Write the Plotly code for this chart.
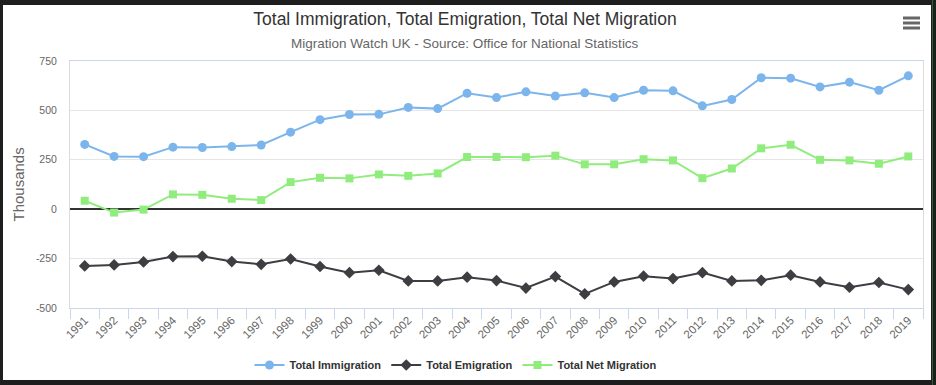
import plotly.graph_objects as go

years = [str(y) for y in range(1991, 2020)]
immigration = [328, 267, 266, 314, 312, 317, 325, 390, 453, 479, 480, 515, 509, 587, 565, 594, 573, 589, 565,
               602, 599, 523, 555, 665, 663, 619, 643, 602, 675]
emigration = [-287, -282, -267, -240, -238, -265, -279, -252, -290, -321, -309, -363, -363, -344, -361, -399,
              -341, -429, -368, -339, -351, -321, -363, -360, -334, -368, -395, -371, -407]
net_migration = [43, -17, -2, 75, 73, 53, 46, 137, 159, 156, 176, 169, 181, 264, 264, 263, 271, 227, 227,
                 253, 247, 157, 206, 308, 326, 250, 247, 230, 267]
y_ticks = [-500, -250, 0, 250, 500, 750]

title_text = "Total Immigration, Total Emigration, Total Net Migration"
subtitle_text = "Migration Watch UK - Source: Office for National Statistics"
y_title = "Thousands"

FONT = "Liberation Sans, Arial, sans-serif"

W, H = 936, 385
L, R, T, B = 70, 13, 61, 77
PW = W - L - R
PH = H - T - B

def px_x(p):
    return (p - L) / PW

def px_y(p):
    return (H - B - p) / PH

fig = go.Figure()
fig.add_trace(go.Scatter(x=years, y=immigration, name="Total Immigration", mode="lines+markers",
                         line=dict(color="#7cb5ec", width=2),
                         marker=dict(symbol="circle", size=9, color="#7cb5ec")))
fig.add_trace(go.Scatter(x=years, y=emigration, name="Total Emigration", mode="lines+markers",
                         line=dict(color="#3d3d42", width=2),
                         marker=dict(symbol="diamond", size=9, color="#3d3d42")))
fig.add_trace(go.Scatter(x=years, y=net_migration, name="Total Net Migration", mode="lines+markers",
                         line=dict(color="#90ed7d", width=2),
                         marker=dict(symbol="square", size=8, color="#90ed7d")))

shapes = [
    dict(type="rect", xref="paper", yref="paper", layer="below",
         x0=px_x(3), x1=px_x(931), y0=px_y(380), y1=px_y(5),
         fillcolor="white", line=dict(width=0)),
    dict(type="line", xref="paper", yref="paper", layer="below",
         x0=px_x(932.5), x1=px_x(932.5), y0=px_y(385), y1=px_y(0),
         line=dict(color="#2f5f34", width=1)),
]
for yy in (18, 23, 28):
    shapes.append(dict(type="line", xref="paper", yref="paper",
                       x0=px_x(903), x1=px_x(920), y0=px_y(yy), y1=px_y(yy),
                       line=dict(color="#666666", width=3)))

fig.update_layout(
    width=W, height=H,
    margin=dict(l=L, r=R, t=T, b=B, pad=0, autoexpand=False),
    paper_bgcolor="#1e1e1e",
    plot_bgcolor="white",
    font=dict(family=FONT, color="#666666"),
    title=dict(text=title_text, x=465 / W, xanchor="center", xref="container",
               y=1 - 19 / H, yanchor="middle", yref="container",
               font=dict(family=FONT, size=17.5, color="#333333")),
    showlegend=True,
    legend=dict(orientation="h", x=px_x(456), xanchor="center", y=px_y(365), yanchor="middle",
                font=dict(family=FONT, size=11, color="#333333", weight="bold"),
                bgcolor="rgba(0,0,0,0)", itemwidth=30, traceorder="normal"),
    shapes=shapes,
    annotations=[
        dict(text=subtitle_text, xref="paper", yref="paper", x=px_x(465), y=px_y(44),
             xanchor="center", yanchor="middle", showarrow=False,
             font=dict(family=FONT, size=13.5, color="#666666")),
        dict(text=y_title, xref="paper", yref="paper", x=px_x(18), y=0.5, textangle=-90,
             xanchor="center", yanchor="middle", showarrow=False,
             font=dict(family=FONT, size=15, color="#666666")),
    ],
    hovermode="closest",
)

fig.update_xaxes(type="category", range=[-0.5, len(years) - 0.5], automargin=False,
                 tickangle=-45, tickfont=dict(family=FONT, size=11.5, color="#666666"),
                 ticks="outside", tickson="boundaries", ticklen=10, tickcolor="#ccd6eb",
                 showline=True, linecolor="#ccd6eb", linewidth=1, mirror=True,
                 showgrid=False, zeroline=False)
fig.update_yaxes(range=[-500, 750], tickvals=y_ticks, ticktext=[str(v) for v in y_ticks], automargin=False,
                 tickfont=dict(family=FONT, size=10.5, color="#666666"),
                 ticks="", ticklabelstandoff=10,
                 showgrid=True, gridcolor="#e6e6e6", gridwidth=1,
                 zeroline=True, zerolinecolor="#333333", zerolinewidth=2,
                 showline=True, linecolor="#dcdcdc", linewidth=1, mirror=True)

fig.write_html("out.html", config={"displayModeBar": False},
               post_script="document.body.style.margin='0px';document.body.style.overflow='hidden';")
